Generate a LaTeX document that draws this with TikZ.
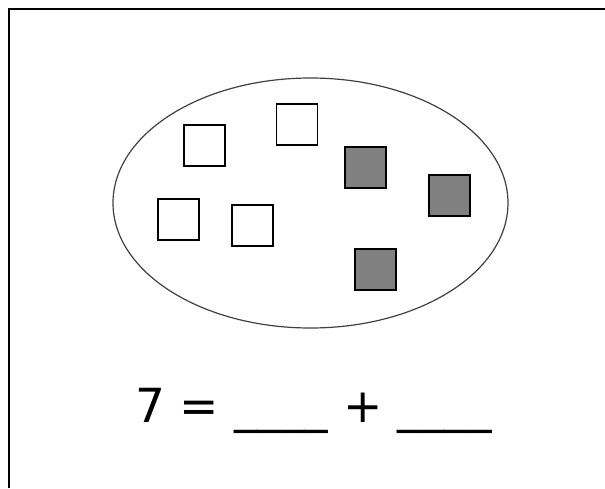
\documentclass[tikz,border=0pt]{standalone}
\usepackage{fontspec}
\setmainfont{DejaVu Sans}
\usetikzlibrary{shapes.geometric}
\begin{document}
\begin{tikzpicture}[x=1pt,y=-1pt,
  frame/.style={line width=2pt,black},
  bag/.style={draw=black!75,line width=1.2pt},
  opensq/.style={draw=black,line width=1.3pt,fill=white,minimum size=41pt,inner sep=0pt,outer sep=0pt},
  fullsq/.style={opensq,fill=black!50}]
\useasboundingbox (0,0) rectangle (605,488);
\coordinate (tl) at (9,9);
\coordinate (tr) at (605,9);
\coordinate (bl) at (9,488);
\draw[frame] (bl) -- (tl) -- (tr);
\node[bag,ellipse,draw,minimum width=395pt,minimum height=250pt,inner sep=0pt] (e) at (310.5,203) {};
\node[opensq] (s1) at (204.5,145.5) {};
\node[opensq] (s2) at (297,124.5) {};
\node[fullsq] (s3) at (365.5,167.5) {};
\node[fullsq] (s4) at (449.5,195.5) {};
\node[opensq] (s5) at (178.5,219.5) {};
\node[opensq] (s6) at (252.5,225.5) {};
\node[fullsq] (s7) at (375.5,269.5) {};
\node[anchor=base west,inner sep=0pt,font=\fontsize{47}{56}\selectfont] (eq) at (135,422) {7 = \_\_\_\_ + \_\_\_\_};
\end{tikzpicture}
\end{document}
